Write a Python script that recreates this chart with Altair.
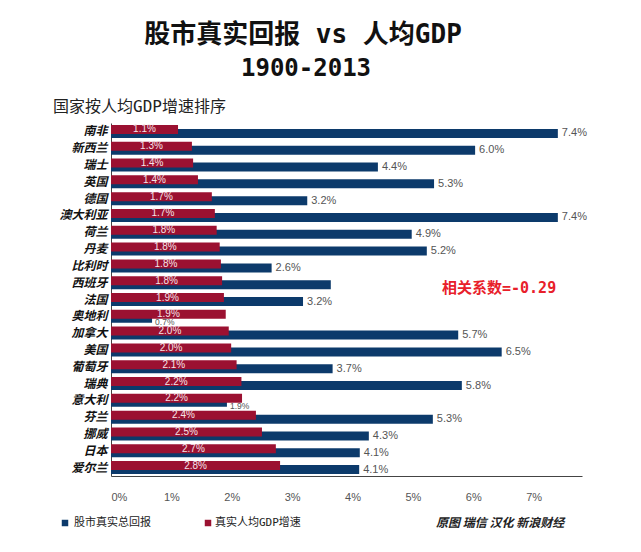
import altair as alt
import pandas as pd

countries = ["南非", "新西兰", "瑞士", "英国", "德国", "澳大利亚", "荷兰", "丹麦", "比利时", "西班牙",
             "法国", "奥地利", "加拿大", "美国", "葡萄牙", "瑞典", "意大利", "芬兰", "挪威", "日本", "爱尔兰"]
gdp = [1.11, 1.34, 1.36, 1.44, 1.67, 1.72, 1.75, 1.80, 1.82, 1.84, 1.87, 1.90, 1.95, 1.99, 2.08,
       2.16, 2.17, 2.40, 2.50, 2.73, 2.80]
gdp_labels = ["1.1%", "1.3%", "1.4%", "1.4%", "1.7%", "1.7%", "1.8%", "1.8%", "1.8%", "1.8%", "1.9%",
              "1.9%", "2.0%", "2.0%", "2.1%", "2.2%", "2.2%", "2.4%", "2.5%", "2.7%", "2.8%"]
stock = [7.40, 6.03, 4.42, 5.35, 3.25, 7.40, 4.98, 5.23, 2.66, 3.64, 3.18, 0.68, 5.75, 6.47, 3.67,
         5.81, 1.92, 5.33, 4.27, 4.12, 4.11]
stock_labels = ["7.4%", "6.0%", "4.4%", "5.3%", "3.2%", "7.4%", "4.9%", "5.2%", "2.6%", "",
                "3.2%", "0.7%", "5.7%", "6.5%", "3.7%", "5.8%", "1.9%", "5.3%", "4.3%", "4.1%", "4.1%"]
x_ticks = [0, 1, 2, 3, 4, 5, 6, 7]

BLUE = "#0c3a6b"
RED = "#9b1131"
CJK = "'Noto Sans CJK SC'"
MONO = "'DejaVu Sans Mono', 'Noto Sans CJK SC'"
LAT = "'Liberation Sans', Arial, sans-serif"

df = pd.DataFrame({"country": countries, "gdp": gdp, "gdp_label": gdp_labels,
                   "stock": stock, "stock_label": stock_labels})

W, H = 471, 353

y_enc = alt.Y("country:N", sort=countries,
              scale=alt.Scale(paddingInner=0.1, paddingOuter=0.05),
              axis=alt.Axis(title=None, ticks=False, labelFont=CJK, labelFontSize=12,
                            labelFontWeight="bold", labelFontStyle="italic", labelColor="#111",
                            labelPadding=4, domainColor="#444", domainWidth=1))
x_scale = alt.Scale(domain=[0, 7.8], nice=False, zero=True)

base = alt.Chart(df)

blue_bars = base.mark_bar(size=9, yOffset=2, color=BLUE).encode(
    x=alt.X("stock:Q", scale=x_scale,
            axis=alt.Axis(title=None, values=x_ticks, labelExpr="datum.value + '%'", ticks=False,
                          grid=False, labelFont=LAT, labelFontSize=11, labelColor="#555",
                          labelPadding=15, domainColor="#444", domainWidth=1)),
    y=y_enc,
)
red_bars = base.mark_bar(size=9, yOffset=-2, color=RED).encode(
    x=alt.X("gdp:Q", scale=x_scale), y=y_enc)

# labels of blue bars longer than the red one sit beside the bar end
blue_text = base.transform_filter("datum.stock >= datum.gdp").mark_text(
    align="left", baseline="middle", dx=4, dy=2, font=LAT, fontSize=11, color="#555").encode(
    x=alt.X("stock:Q", scale=x_scale), y=y_enc, text="stock_label:N")
# labels of blue bars shorter than the red one sit just under the bar end
blue_text_small = base.transform_filter("datum.stock < datum.gdp").mark_text(
    align="left", baseline="middle", dx=3, dy=6, font=LAT, fontSize=8.5, color="#555").encode(
    x=alt.X("stock:Q", scale=x_scale), y=y_enc, text="stock_label:N")

red_text = base.transform_calculate(mid="datum.gdp / 2").mark_text(
    align="center", baseline="middle", dy=-2, font=LAT, fontSize=10, color="#f5e3e7").encode(
    x=alt.X("mid:Q", scale=x_scale), y=y_enc, text="gdp_label:N")


def label(text, x, y, size, color="#111", font=MONO, weight="normal", style="normal", align="left"):
    return alt.Chart(pd.DataFrame({"t": [text]})).mark_text(
        align=align, baseline="middle", font=font, fontSize=size, fontWeight=weight,
        fontStyle=style, color=color).encode(
        x=alt.value(x), y=alt.value(y), text="t:N")


def square(x, y, color):
    return alt.Chart(pd.DataFrame({"t": [0]})).mark_square(size=42, color=color, opacity=1).encode(
        x=alt.value(x), y=alt.value(y))


title1 = label("股市真实回报 vs 人均GDP", 192, -88, 26, weight="bold", align="center")
title2 = label("1900-2013", 195, -54, 24, weight="bold", align="center")
subtitle = label("国家按人均GDP增速排序", -58, -16, 16, color="#222")
corr = label("相关系数=-0.29", 331, 165, 15, color="#e8202a", weight="bold")
leg1s = square(-46, 400, BLUE)
leg1t = label("股市真实总回报", -37, 400, 11, color="#222")
leg2s = square(97, 400, RED)
leg2t = label("真实人均GDP增速", 104, 400, 11, color="#222")
source = label("原图 瑞信 汉化 新浪财经", 325, 400, 12, color="#222", font=CJK,
               weight="bold", style="italic")

chart = alt.layer(
    blue_bars, red_bars, blue_text, blue_text_small, red_text,
    title1, title2, subtitle, corr, leg1s, leg1t, leg2s, leg2t, source
).properties(
    width=W, height=H,
    autosize=alt.AutoSizeParams(type="none"),
    padding={"left": 103, "top": 115, "right": 51, "bottom": 68},
    background="white",
).configure_view(stroke=None)

chart.save("out.html", embed_options={"renderer": "svg", "actions": False})
